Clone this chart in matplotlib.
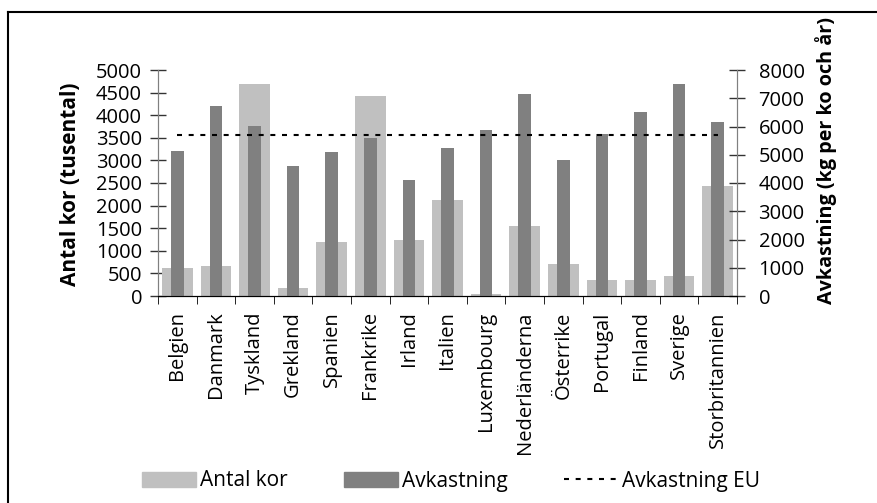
import matplotlib
matplotlib.use("Agg")
import matplotlib.pyplot as plt
from matplotlib.lines import Line2D
from matplotlib.patches import Patch

# Mjölkkor i EU: antal kor och avkastning per land
lander = ["Belgien", "Danmark", "Tyskland", "Grekland", "Spanien", "Frankrike",
          "Irland", "Italien", "Luxembourg", "Nederländerna", "Österrike",
          "Portugal", "Finland", "Sverige", "Storbritannien"]
antal_kor = [620, 670, 4690, 180, 1200, 4430, 1240, 2120, 40, 1550, 710,
             355, 355, 440, 2430]
avkastning = [5120, 6730, 6020, 4600, 5100, 5590, 4110, 5240, 5880, 7150, 4810,
              5740, 6510, 7500, 6160]
avkastning_eu = 5710

LIGHT, DARK = "#c0c0c0", "#808080"
plt.rcParams.update({"font.family": "Open Sans", "font.size": 14.5,
                     "text.color": "black"})

W, H = 877, 503
fig = plt.figure(figsize=(W / 100, H / 100), dpi=100)
ax = fig.add_axes([158 / W, 1 - 296 / H, (737 - 158) / W, (296 - 70) / H])
ax2 = ax.twinx()

x = list(range(len(lander)))
ax.bar(x, antal_kor, width=0.79, color=LIGHT, zorder=2)
ax2.bar(x, avkastning, width=0.33, color=DARK, zorder=2)
ax2.plot(x, [avkastning_eu] * len(x), color="black", lw=1.5,
         ls=(0, (2.4, 3.2)), zorder=3)

ax.set_xlim(-0.5, len(lander) - 0.5)
ax.set_ylim(0, 5000)
ax2.set_ylim(0, 8000)
ax.set_yticks(range(0, 5001, 500))
ax2.set_yticks(range(0, 8001, 1000))

ax.set_xticks(x)
ax.set_xticklabels(lander, rotation=90, ha="center", va="top")
ax.set_xticks([i + 0.5 for i in range(-1, len(lander))], minor=True)
ax.tick_params(axis="x", which="major", length=0, pad=11)
ax.tick_params(axis="x", which="minor", length=6, direction="out", color="black")
ax.tick_params(axis="y", direction="inout", length=11, width=1, color="#333333", pad=6)
ax2.tick_params(axis="y", direction="inout", length=11, width=1, color="#333333", pad=10)

for a in (ax, ax2):
    a.spines["top"].set_visible(False)
    a.spines["left"].set_color("#808080")
    a.spines["right"].set_color("#808080")
    a.spines["bottom"].set_color("black")

fig.text(71 / W, 1 - 184 / H, "Antal kor (tusental)", rotation=90,
         ha="center", va="center", fontsize=15, fontweight="bold")
fig.text(826 / W, 1 - 161 / H, "Avkastning (kg per ko och år)", rotation=90,
         ha="center", va="center", fontsize=14.2, fontweight="bold")

handles = [Patch(color=LIGHT), Patch(color=DARK),
           Line2D([], [], color="black", lw=1.5, ls=(0, (2.4, 3.2)))]
fig.legend(handles, ["Antal kor", "Avkastning", "Avkastning EU"],
           loc="center", bbox_to_anchor=(451 / W, 1 - 481 / H), ncol=3,
           frameon=False, fontsize=15, handlelength=2.6, handleheight=0.72,
           handletextpad=0.2, columnspacing=2.7)

# ram runt figuren (vänster och övre kant)
fig.add_artist(Line2D([8 / W, 8 / W], [0, 1 - 12 / H], color="black", lw=1.5,
                      transform=fig.transFigure))
fig.add_artist(Line2D([8 / W, 1], [1 - 12 / H, 1 - 12 / H], color="black", lw=1.5,
                      transform=fig.transFigure))

fig.savefig("out.png", dpi=100)
